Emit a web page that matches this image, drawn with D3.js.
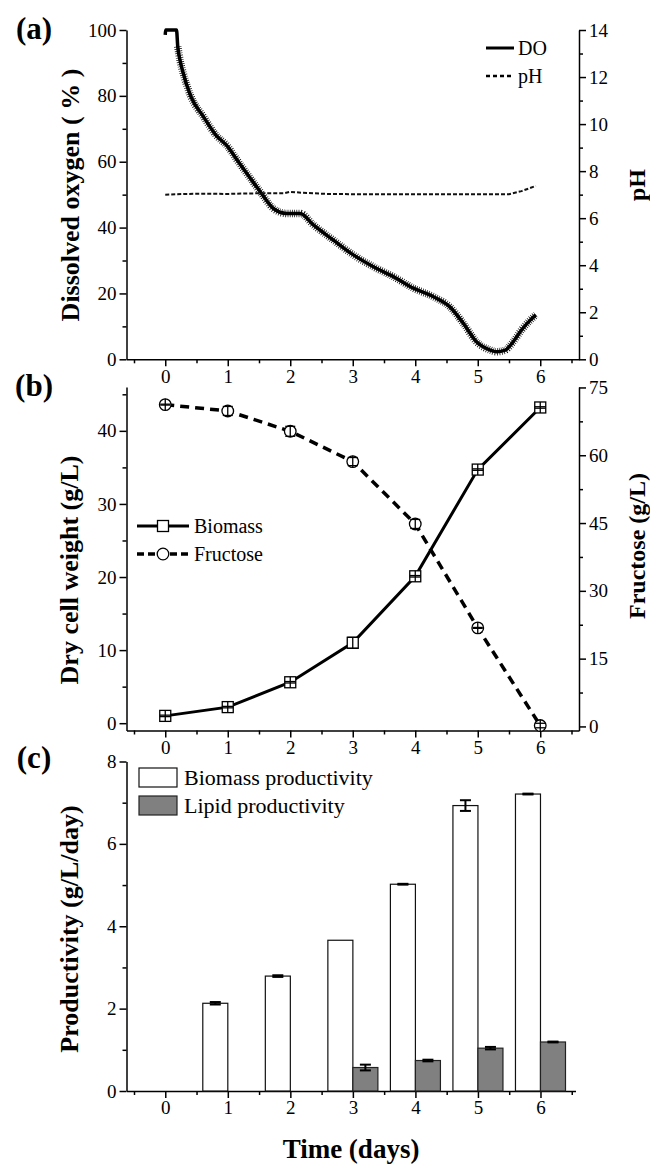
<!DOCTYPE html>
<html>
<head>
<meta charset="utf-8">
<script src="https://cdn.jsdelivr.net/npm/d3@7"></script>
<style>
  body { margin: 0; background: #fff; }
  svg text { font-family: "Liberation Serif", "Times New Roman", serif; }
</style>
</head>
<body>
<script>
// ---- data ----
var days = [0, 1, 2, 3, 4, 5, 6];

// (a) dissolved oxygen trace and pH trace
var doTime  = [0, 0.005, 0.18, 0.2, 0.24, 0.28, 0.41, 0.61, 0.81, 1.0, 1.15, 1.36, 1.52, 1.73, 1.94, 2.16, 2.37, 2.69, 3.01, 3.33, 3.65, 3.97, 4.29, 4.55, 4.77, 4.98, 5.2, 5.3, 5.44, 5.57, 5.7, 5.84, 5.93];
var doValue = [98.5, 100, 100, 95, 90.5, 87.4, 79.8, 73.7, 68.1, 64.6, 60.5, 55.0, 50.9, 45.8, 44.3, 44.3, 40.8, 36.2, 31.7, 28.1, 25.1, 21.6, 19.0, 16.0, 10.9, 5.3, 2.8, 2.3, 2.8, 5.4, 8.9, 11.9, 13.5];
var phTime  = [0, 0.3, 0.6, 1.0, 1.3, 1.6, 1.9, 2.0, 2.2, 2.6, 3.0, 4.0, 5.0, 5.5, 5.7, 5.93];
var phValue = [7.0, 7.03, 7.04, 7.03, 7.05, 7.06, 7.06, 7.12, 7.08, 7.03, 7.02, 7.02, 7.02, 7.02, 7.15, 7.37];

// (b) dry cell weight and fructose
var biomass     = [1.0, 2.2, 5.6, 11.0, 20.1, 34.7, 43.2];
var biomassErr  = [0.1, 0.1, 0.1, 0.75, 0.1, 0.1, 0.1];
var fructose    = [71.2, 69.8, 65.3, 58.6, 44.8, 21.8, 0.2];
var fructoseErr = [0.1, 1.0, 1.1, 0.9, 1.0, 0.1, 0.5];

// (c) productivities
var biomassProd    = [0, 2.13, 2.79, 3.66, 5.02, 6.93, 7.21];
var biomassProdErr = [0, 0.03, 0.02, 0, 0.01, 0.13, 0.01];
var lipidProd      = [0, 0, 0, 0.57, 0.74, 1.04, 1.19];
var lipidProdErr   = [0, 0, 0, 0.07, 0.02, 0.03, 0.01];

// ticks
var doTicks = [0, 20, 40, 60, 80, 100];
var phTicks = [0, 2, 4, 6, 8, 10, 12, 14];
var dcwTicks = [0, 10, 20, 30, 40];
var fruTicks = [0, 15, 30, 45, 60, 75];
var prodTicks = [0, 2, 4, 6, 8];

var width = 650, height = 1166;
var svg = d3.select("body").append("svg")
  .attr("width", width)
  .attr("height", height);

var x = d3.scaleLinear().domain([-0.62, 6.62]).range([126.5, 579]);
var xc = d3.scaleLinear().domain([-0.62, 6.56]).range([126.5, 575.5]);

var yDO  = d3.scaleLinear().domain([0, 100]).range([359.3, 30]);
var yPH  = d3.scaleLinear().domain([0, 14]).range([359.3, 30]);
var yDCW = d3.scaleLinear().domain([-1, 46]).range([730.5, 387]);
var yFru = d3.scaleLinear().domain([-0.9, 75.1]).range([730.5, 387]);
var yP   = d3.scaleLinear().domain([0, 8]).range([1091, 761.5]);

var halfDays = d3.range(-0.5, 6.6, 0.5).filter(function(d) { return d % 1 !== 0; });

function styleAxis(g) {
  g.selectAll(".domain").attr("stroke", "#000").attr("stroke-width", 1.5);
  g.selectAll(".tick line").attr("stroke", "#000").attr("stroke-width", 1.5);
  g.selectAll("text")
    .attr("font-size", 19)
    .attr("fill", "#000");
}

function drawAxis(axisFn, scale, major, minor, transform) {
  var g = svg.append("g").attr("transform", transform);
  g.call(axisFn(scale).tickValues(major).tickSize(7).tickSizeOuter(0).tickPadding(3));
  styleAxis(g);
  var m = svg.append("g").attr("transform", transform);
  m.call(axisFn(scale).tickValues(minor).tickSize(4).tickSizeOuter(0).tickFormat(""));
  m.select(".domain").remove();
  styleAxis(m);
  return g;
}

function mids(arr) {
  var out = [];
  for (var i = 0; i < arr.length - 1; i++) out.push((arr[i] + arr[i + 1]) / 2);
  return out;
}

function label(txt, cx, cy, size, rotate) {
  svg.append("text")
    .attr("transform", "translate(" + cx + "," + cy + ")" + (rotate ? " rotate(-90)" : ""))
    .attr("text-anchor", "middle")
    .attr("dominant-baseline", "central")
    .attr("font-weight", "bold")
    .attr("font-size", size)
    .text(txt);
}

// ---------------- panel (a) ----------------
drawAxis(d3.axisLeft, yDO, doTicks, mids(doTicks), "translate(126.5,0)");
drawAxis(d3.axisRight, yPH, phTicks, mids(phTicks), "translate(579,0)");
drawAxis(d3.axisBottom, x, days, halfDays, "translate(0,359.3)");

var doLine = d3.line()
  .x(function(d) { return x(d[0]); })
  .y(function(d) { return yDO(d[1]); })
  .curve(d3.curveMonotoneX);
var doPts = doTime.map(function(t, i) { return [t, doValue[i]]; });
svg.append("path")
  .attr("d", doLine(doPts))
  .attr("fill", "none")
  .attr("stroke", "#000")
  .attr("stroke-width", 3.5)
  .attr("stroke-linejoin", "round");
// fuzzy band of the logged signal
svg.append("path")
  .attr("d", doLine(doPts.slice(3)))
  .attr("fill", "none")
  .attr("stroke", "#000")
  .attr("stroke-width", 7.5)
  .attr("stroke-dasharray", "0.7,1.5");

var phLine = d3.line()
  .x(function(d, i) { return x(phTime[i]); })
  .y(function(d) { return yPH(d); });
svg.append("path")
  .attr("d", phLine(phValue))
  .attr("fill", "none")
  .attr("stroke", "#111")
  .attr("stroke-width", 2)
  .attr("stroke-dasharray", "4,2");

// legend (a)
svg.append("line").attr("x1", 486).attr("x2", 514).attr("y1", 48).attr("y2", 48)
  .attr("stroke", "#000").attr("stroke-width", 3);
svg.append("text").attr("x", 518).attr("y", 48).attr("dominant-baseline", "central")
  .attr("font-size", 20).text("DO");
svg.append("line").attr("x1", 486).attr("x2", 514).attr("y1", 76).attr("y2", 76)
  .attr("stroke", "#000").attr("stroke-width", 2.5).attr("stroke-dasharray", "4,3");
svg.append("text").attr("x", 518).attr("y", 76).attr("dominant-baseline", "central")
  .attr("font-size", 20).text("pH");

label("Dissolved oxygen ( % )", 70, 195, 26, true);
label("pH", 637, 185, 24, true);
label("(a)", 34, 28, 31, false);

// ---------------- panel (b) ----------------
drawAxis(d3.axisLeft, yDCW, dcwTicks, [5, 15, 25, 35, 45], "translate(126.5,0)");
drawAxis(d3.axisRight, yFru, fruTicks, mids(fruTicks), "translate(579,0)");
drawAxis(d3.axisBottom, x, days, halfDays, "translate(0,730.5)");

var bLine = d3.line()
  .x(function(d, i) { return x(days[i]); })
  .y(function(d) { return yDCW(d); });
svg.append("path").attr("d", bLine(biomass))
  .attr("fill", "none").attr("stroke", "#000").attr("stroke-width", 3);

var fLine = d3.line()
  .x(function(d, i) { return x(days[i]); })
  .y(function(d) { return yFru(d); });
svg.append("path").attr("d", fLine(fructose))
  .attr("fill", "none").attr("stroke", "#000").attr("stroke-width", 3.5)
  .attr("stroke-dasharray", "9,6");

function errBar(g, cx, cy, top, bot, capW, minHalf) {
  var t = Math.min(top, cy - minHalf), b = Math.max(bot, cy + minHalf);
  g.append("line").attr("x1", cx).attr("x2", cx).attr("y1", t).attr("y2", b);
  g.append("line").attr("x1", cx - capW / 2).attr("x2", cx + capW / 2).attr("y1", top).attr("y2", top);
  g.append("line").attr("x1", cx - capW / 2).attr("x2", cx + capW / 2).attr("y1", bot).attr("y2", bot);
}

var mk = svg.append("g");
biomass.forEach(function(v, i) {
  var cx = x(days[i]), cy = yDCW(v);
  mk.append("rect").attr("x", cx - 5.5).attr("y", cy - 5.5).attr("width", 11).attr("height", 11)
    .attr("fill", "#fff").attr("stroke", "#000").attr("stroke-width", 1.3);
  var eg = mk.append("g").attr("stroke", "#000").attr("stroke-width", 1.3);
  errBar(eg, cx, cy, yDCW(v + biomassErr[i]), yDCW(v - biomassErr[i]), 11, 5.5);
});
fructose.forEach(function(v, i) {
  var cx = x(days[i]), cy = yFru(v);
  mk.append("circle").attr("cx", cx).attr("cy", cy).attr("r", 5.8)
    .attr("fill", "#fff").attr("stroke", "#000").attr("stroke-width", 1.3);
  var eg = mk.append("g").attr("stroke", "#000").attr("stroke-width", 1.3);
  errBar(eg, cx, cy, yFru(v + fructoseErr[i]), yFru(v - fructoseErr[i]), 10, 5.8);
});

// legend (b)
svg.append("line").attr("x1", 137).attr("x2", 189).attr("y1", 526).attr("y2", 526)
  .attr("stroke", "#000").attr("stroke-width", 3);
svg.append("rect").attr("x", 157.5).attr("y", 520.5).attr("width", 11).attr("height", 11)
  .attr("fill", "#fff").attr("stroke", "#000").attr("stroke-width", 1.3);
svg.append("text").attr("x", 194).attr("y", 526).attr("dominant-baseline", "central")
  .attr("font-size", 20).text("Biomass");
svg.append("line").attr("x1", 137).attr("x2", 189).attr("y1", 554).attr("y2", 554)
  .attr("stroke", "#000").attr("stroke-width", 3.5).attr("stroke-dasharray", "7,4");
svg.append("circle").attr("cx", 163).attr("cy", 554).attr("r", 5.8)
  .attr("fill", "#fff").attr("stroke", "#000").attr("stroke-width", 1.3);
svg.append("text").attr("x", 194).attr("y", 554).attr("dominant-baseline", "central")
  .attr("font-size", 20).text("Fructose");

label("Dry cell weight (g/L)", 69, 570, 26, true);
label("Fructose (g/L)", 637, 546, 24, true);
label("(b)", 34, 385, 31, false);

// ---------------- panel (c) ----------------
drawAxis(d3.axisLeft, yP, prodTicks, [1, 3, 5, 7], "translate(126.5,0)");
var xcAxis = svg.append("g").attr("transform", "translate(0,1091)");
xcAxis.call(d3.axisBottom(xc).tickValues(days).tickSize(7).tickSizeOuter(0).tickPadding(3));
styleAxis(xcAxis);
var xcMinor = svg.append("g").attr("transform", "translate(0,1091)");
xcMinor.call(d3.axisBottom(xc).tickValues(halfDays).tickSize(4).tickFormat(""));
xcMinor.select(".domain").remove();
styleAxis(xcMinor);

var barW = 0.4;
var bars = svg.append("g");
days.forEach(function(d, i) {
  if (biomassProd[i] > 0) {
    bars.append("rect")
      .attr("x", xc(d - barW)).attr("width", xc(d) - xc(d - barW))
      .attr("y", yP(biomassProd[i])).attr("height", yP(0) - yP(biomassProd[i]))
      .attr("fill", "#fff").attr("stroke", "#111").attr("stroke-width", 1.2);
  }
  if (lipidProd[i] > 0) {
    bars.append("rect")
      .attr("x", xc(d)).attr("width", xc(d + barW) - xc(d))
      .attr("y", yP(lipidProd[i])).attr("height", yP(0) - yP(lipidProd[i]))
      .attr("fill", "#808080").attr("stroke", "#222").attr("stroke-width", 1.2);
  }
});
var eb = svg.append("g").attr("stroke", "#000").attr("stroke-width", 2);
days.forEach(function(d, i) {
  if (biomassProdErr[i] > 0) {
    var cx = xc(d - barW / 2);
    errBar(eb, cx, yP(biomassProd[i]), yP(biomassProd[i] + biomassProdErr[i]), yP(biomassProd[i] - biomassProdErr[i]), 11, 0);
  }
  if (lipidProdErr[i] > 0) {
    var cx2 = xc(d + barW / 2);
    errBar(eb, cx2, yP(lipidProd[i]), yP(lipidProd[i] + lipidProdErr[i]), yP(lipidProd[i] - lipidProdErr[i]), 11, 0);
  }
});

// legend (c)
svg.append("rect").attr("x", 139).attr("y", 768).attr("width", 38).attr("height", 19)
  .attr("fill", "#fff").attr("stroke", "#111").attr("stroke-width", 1.2);
svg.append("text").attr("x", 184).attr("y", 777.5).attr("dominant-baseline", "central")
  .attr("font-size", 22).text("Biomass productivity");
svg.append("rect").attr("x", 139).attr("y", 796).attr("width", 38).attr("height", 19)
  .attr("fill", "#808080").attr("stroke", "#222").attr("stroke-width", 1.2);
svg.append("text").attr("x", 184).attr("y", 805.5).attr("dominant-baseline", "central")
  .attr("font-size", 22).text("Lipid productivity");

label("Productivity (g/L/day)", 69, 929, 26, true);
label("Time (days)", 351, 1149, 27, false);
label("(c)", 34, 757, 31, false);
</script>
</body>
</html>
